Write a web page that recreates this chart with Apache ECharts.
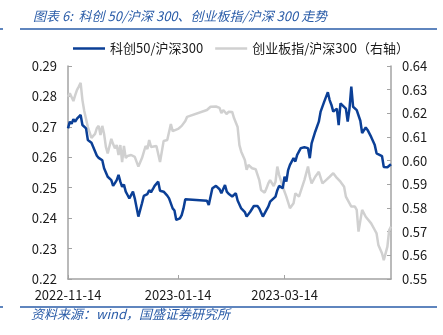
<!DOCTYPE html>
<html>
<head>
<meta charset="utf-8">
<script src="https://cdn.jsdelivr.net/npm/echarts@6/dist/echarts.min.js"></script>
<style>
  html, body { margin: 0; padding: 0; background: #fff; }
  #chart { width: 443px; height: 335px; }
</style>
</head>
<body>
<div id="chart"></div>
<script>
// 科创50/沪深300 (left axis)
const starDates = [
  '2022-11-14','2022-11-15','2022-11-16','2022-11-17','2022-11-18','2022-11-19','2022-11-20','2022-11-21','2022-11-22','2022-11-23',
  '2022-11-24','2022-11-25','2022-11-26','2022-11-27','2022-11-28','2022-11-30','2022-12-01','2022-12-02','2022-12-03','2022-12-04',
  '2022-12-06','2022-12-08','2022-12-09','2022-12-10','2022-12-11','2022-12-12','2022-12-13','2022-12-14','2022-12-15','2022-12-16',
  '2022-12-17','2022-12-18','2022-12-19','2022-12-20','2022-12-21','2022-12-23','2022-12-25','2022-12-26','2022-12-28','2022-12-29',
  '2022-12-30','2022-12-31','2023-01-01','2023-01-03','2023-01-04','2023-01-06','2023-01-07','2023-01-08','2023-01-09','2023-01-11',
  '2023-01-12','2023-01-13','2023-01-15','2023-01-16','2023-01-17','2023-01-18','2023-01-30','2023-01-31','2023-02-02','2023-02-04',
  '2023-02-05','2023-02-06','2023-02-07','2023-02-09','2023-02-10','2023-02-11','2023-02-13','2023-02-14','2023-02-15','2023-02-16',
  '2023-02-18','2023-02-20','2023-02-21','2023-02-23','2023-02-25','2023-02-27','2023-02-28','2023-03-02','2023-03-04','2023-03-05',
  '2023-03-06','2023-03-07','2023-03-09','2023-03-10','2023-03-11','2023-03-13','2023-03-14','2023-03-15','2023-03-16','2023-03-17',
  '2023-03-19','2023-03-20','2023-03-21','2023-03-23','2023-03-25','2023-03-27','2023-03-28','2023-03-29','2023-03-30','2023-03-31',
  '2023-04-02','2023-04-03','2023-04-04','2023-04-05','2023-04-07','2023-04-08','2023-04-09','2023-04-10','2023-04-11','2023-04-12',
  '2023-04-13','2023-04-14','2023-04-15','2023-04-17','2023-04-18','2023-04-19','2023-04-20','2023-04-21','2023-04-23','2023-04-25',
  '2023-04-26','2023-04-28','2023-04-29','2023-05-01','2023-05-03','2023-05-04','2023-05-07','2023-05-08','2023-05-10','2023-05-12'
];
const starValues = [
  0.2695,0.2717,0.2710,0.2725,0.2717,0.2727,0.2722,0.2739,0.2706,0.2700,
  0.2695,0.2657,0.2660,0.2648,0.2645,0.2605,0.2598,0.2604,0.2590,0.2564,
  0.2536,0.2525,0.2506,0.2515,0.2525,0.2542,0.2520,0.2503,0.2510,0.2487,
  0.2476,0.2465,0.2470,0.2487,0.2465,0.2405,0.2449,0.2473,0.2479,0.2492,
  0.2485,0.2495,0.2506,0.2520,0.2490,0.2487,0.2492,0.2474,0.2465,0.2432,
  0.2425,0.2394,0.2399,0.2410,0.2432,0.2462,0.2457,0.2443,0.2498,0.2506,
  0.2506,0.2495,0.2482,0.2509,0.2487,0.2480,0.2471,0.2468,0.2482,0.2458,
  0.2432,0.2420,0.2405,0.2421,0.2440,0.2440,0.2432,0.2405,0.2427,0.2438,
  0.2454,0.2450,0.2471,0.2492,0.2506,0.2498,0.2536,0.2520,0.2558,0.2575,
  0.2597,0.2586,0.2608,0.2630,0.2633,0.2630,0.2597,0.2646,0.2640,0.2684,
  0.2717,0.2750,0.2755,0.2783,0.2814,0.2788,0.2772,0.2750,0.2745,0.2760,
  0.2706,0.2777,0.2772,0.2760,0.2717,0.2760,0.2832,0.2766,0.2755,0.2720,
  0.2680,0.2698,0.2690,0.2667,0.2640,0.2613,0.2604,0.2568,0.2567,0.2577
];

// 创业板指/沪深300 (right axis)
const gemDates = [
  '2022-11-14','2022-11-15','2022-11-17','2022-11-18','2022-11-19','2022-11-20','2022-11-21','2022-11-22','2022-11-23','2022-11-24',
  '2022-11-25','2022-11-26','2022-11-27','2022-11-29','2022-11-30','2022-12-01','2022-12-02','2022-12-03','2022-12-04','2022-12-05',
  '2022-12-06','2022-12-08','2022-12-09','2022-12-10','2022-12-11','2022-12-12','2022-12-13','2022-12-14','2022-12-15','2022-12-16',
  '2022-12-17','2022-12-19','2022-12-20','2022-12-21','2022-12-23','2022-12-25','2022-12-27','2022-12-28','2022-12-29','2022-12-30',
  '2022-12-31','2023-01-02','2023-01-04','2023-01-06','2023-01-08','2023-01-09','2023-01-10','2023-01-11','2023-01-14','2023-01-16',
  '2023-01-18','2023-01-19','2023-01-30','2023-02-01','2023-02-02','2023-02-04','2023-02-06','2023-02-07','2023-02-08','2023-02-10',
  '2023-02-11','2023-02-13','2023-02-14','2023-02-16','2023-02-17','2023-02-18','2023-02-20','2023-02-21','2023-02-22','2023-02-24',
  '2023-02-26','2023-02-27','2023-02-28','2023-03-01','2023-03-03','2023-03-04','2023-03-05','2023-03-06','2023-03-08','2023-03-09',
  '2023-03-10','2023-03-11','2023-03-13','2023-03-15','2023-03-17','2023-03-19','2023-03-20','2023-03-22','2023-03-23','2023-03-25',
  '2023-03-27','2023-03-28','2023-03-29','2023-03-31','2023-04-02','2023-04-03','2023-04-04','2023-04-06','2023-04-08','2023-04-10',
  '2023-04-12','2023-04-13','2023-04-14','2023-04-16','2023-04-17','2023-04-18','2023-04-20','2023-04-22','2023-04-23','2023-04-24',
  '2023-04-26','2023-04-28','2023-05-01','2023-05-03','2023-05-04','2023-05-05','2023-05-07','2023-05-08','2023-05-10','2023-05-11',
  '2023-05-12'
];
const gemValues = [
  0.6270,0.6285,0.6252,0.6277,0.6299,0.6313,0.6329,0.6256,0.6210,0.6214,
  0.6142,0.6147,0.6096,0.6113,0.6138,0.6147,0.6108,0.6147,0.6113,0.6058,
  0.6031,0.6092,0.6070,0.6052,0.6066,0.6024,0.6066,0.5994,0.6062,0.6011,
  0.6020,0.6024,0.6028,0.6016,0.5975,0.6011,0.6062,0.6049,0.6087,0.6058,
  0.6059,0.6062,0.5994,0.6083,0.6087,0.6083,0.6155,0.6125,0.6134,0.6147,
  0.6168,0.6185,0.6214,0.6228,0.6223,0.6229,0.6223,0.6201,0.6214,0.6197,
  0.6207,0.6206,0.6180,0.6142,0.6066,0.6038,0.6003,0.5961,0.5982,0.5968,
  0.5964,0.5961,0.5918,0.5876,0.5865,0.5883,0.5904,0.5918,0.5893,0.5911,
  0.5975,0.5940,0.5890,0.5848,0.5799,0.5820,0.5862,0.5848,0.5855,0.5918,
  0.5975,0.5932,0.5904,0.5932,0.5953,0.5961,0.5904,0.5918,0.5932,0.5947,
  0.5927,0.5935,0.5911,0.5890,0.5848,0.5855,0.5806,0.5806,0.5792,0.5700,
  0.5792,0.5763,0.5735,0.5707,0.5693,0.5644,0.5609,0.5580,0.5637,0.5707,
  0.5721
];

// axis settings
const dateRange = ['2022-11-14', '2023-05-12'];
const dateTicks = ['2022-11-14', '2023-01-14', '2023-03-14'];
const leftRange = [0.22, 0.29];
const rightRange = [0.55, 0.64];

const seriesNames = ['科创50/沪深300', '创业板指/沪深300（右轴）'];
const titleText = '图表 6:  科创 50/沪深 300、创业板指/沪深 300 走势';
const sourceText = '资料来源：wind，国盛证券研究所';

const FONT = '"Noto Sans CJK SC", "Noto Sans", sans-serif';
const BLUE = '#0b3f96';
const GRAY = '#d0d0d0';
const HEAD = '#2a5ca8';
const AXIS = '#a3a3a3';

// dates are placed on a plain numeric axis (local-midnight timestamps)
const pad = n => (n < 10 ? '0' : '') + n;
const toTs = s => { const p = s.split('-').map(Number); return new Date(p[0], p[1] - 1, p[2]).getTime(); };
const fmtDate = v => {
  const d = new Date(v);
  return d.getFullYear() + '-' + pad(d.getMonth() + 1) + '-' + pad(d.getDate());
};
const zip = (ds, vs) => ds.map((d, i) => [toTs(d), vs[i]]);
const tickTs = dateTicks.map(toTs);

const chart = echarts.init(document.getElementById('chart'), null, { renderer: 'canvas' });

chart.setOption({
  animation: false,
  backgroundColor: '#ffffff',
  textStyle: { fontFamily: FONT },
  title: {
    text: titleText,
    left: 28,
    top: 5,
    textStyle: { fontFamily: FONT, fontSize: 13, fontStyle: 'italic', fontWeight: 'normal', color: HEAD }
  },
  legend: {
    data: seriesNames,
    left: 68,
    top: 37,
    icon: 'rect',
    itemWidth: 32,
    itemHeight: 2.5,
    itemGap: 12,
    textStyle: { fontFamily: FONT, fontSize: 13, color: '#1a1a1a' }
  },
  grid: { left: 68, right: 52, top: 66, bottom: 56, containLabel: false },
  xAxis: {
    type: 'value',
    min: toTs(dateRange[0]),
    max: toTs(dateRange[1]),
    axisLine: { lineStyle: { color: AXIS, width: 1.5 } },
    axisTick: { inside: true, length: 4, customValues: tickTs, lineStyle: { color: AXIS } },
    axisLabel: {
      customValues: tickTs,
      formatter: v => fmtDate(v),
      fontFamily: FONT, fontSize: 13, color: '#1a1a1a', margin: 10
    },
    splitLine: { show: false }
  },
  yAxis: [
    {
      type: 'value',
      min: leftRange[0], max: leftRange[1], interval: 0.01,
      axisLine: { show: true, lineStyle: { color: AXIS, width: 1.5 } },
      axisTick: { show: true, inside: true, length: 4, lineStyle: { color: AXIS } },
      axisLabel: { formatter: v => v.toFixed(2), fontFamily: FONT, fontSize: 13, color: '#1a1a1a', margin: 11 },
      splitLine: { show: false }
    },
    {
      type: 'value',
      position: 'right',
      min: rightRange[0], max: rightRange[1], interval: 0.01,
      axisLine: { show: true, lineStyle: { color: AXIS, width: 1.5 } },
      axisTick: { show: true, inside: true, length: 4, lineStyle: { color: AXIS } },
      axisLabel: { formatter: v => v.toFixed(2), fontFamily: FONT, fontSize: 13, color: '#1a1a1a', margin: 11 },
      splitLine: { show: false }
    }
  ],
  series: [
    {
      name: seriesNames[1],
      type: 'line',
      yAxisIndex: 1,
      data: zip(gemDates, gemValues),
      symbol: 'none',
      color: GRAY,
      lineStyle: { color: GRAY, width: 2.5 },
      z: 2
    },
    {
      name: seriesNames[0],
      type: 'line',
      yAxisIndex: 0,
      data: zip(starDates, starValues),
      symbol: 'none',
      color: BLUE,
      lineStyle: { color: BLUE, width: 2.5 },
      z: 3
    }
  ],
  graphic: [
    { type: 'line', shape: { x1: 20, y1: 29, x2: 437, y2: 29 }, style: { stroke: HEAD, lineWidth: 1.5 } },
    { type: 'line', shape: { x1: 0, y1: 29, x2: 3, y2: 29 }, style: { stroke: HEAD, lineWidth: 1.5 } },
    { type: 'line', shape: { x1: 20, y1: 307, x2: 437, y2: 307 }, style: { stroke: HEAD, lineWidth: 1.5 } },
    { type: 'line', shape: { x1: 0, y1: 307, x2: 3, y2: 307 }, style: { stroke: HEAD, lineWidth: 1.5 } },
    {
      type: 'text', left: 31, top: 308,
      style: { text: sourceText, font: 'italic 13px ' + FONT, fill: HEAD }
    }
  ]
});
</script>
</body>
</html>
